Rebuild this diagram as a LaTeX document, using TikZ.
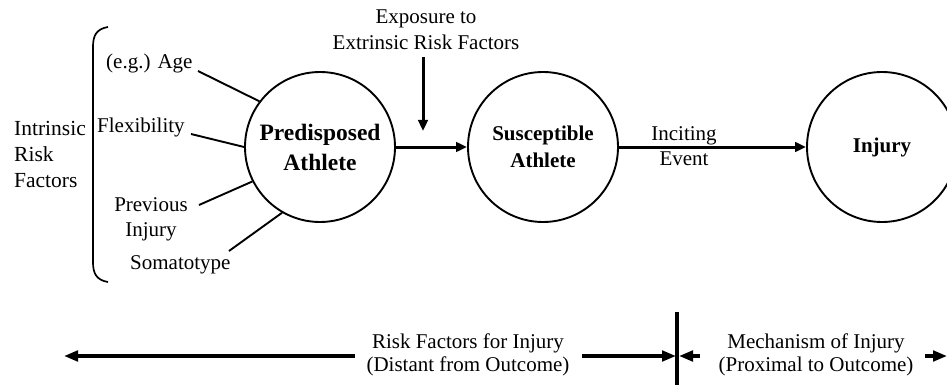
\documentclass[tikz,border=0pt]{standalone}
\usepackage{fontspec}
\setmainfont{Liberation Serif}
\usetikzlibrary{arrows.meta}
\begin{document}
\begin{tikzpicture}[x=1pt,y=-1pt,
  lbl/.style={inner sep=0pt, font=\fontsize{21}{26}\selectfont},
  circ/.style={circle, draw, line width=1.9pt, minimum size=150pt, inner sep=0pt, align=center},
  arr/.style={line width=3pt, -{Triangle[length=11pt,width=9.5pt]}},
  barr/.style={line width=3.3pt, -{Triangle[length=14pt,width=10.5pt]}},
  tie/.style={line width=1.9pt}]
\useasboundingbox (0,0) rectangle (947,385);
\clip (0,0) rectangle (947,385);

% circles
\node[circ, font=\bfseries\fontsize{23.5}{30}\selectfont] (pred) at (320,147) {Predisposed\\Athlete};
\node[circ, font=\bfseries\fontsize{21}{27}\selectfont] (susc) at (543,147) {Susceptible\\Athlete};
\node[circ, font=\bfseries\fontsize{21}{26}\selectfont] (inj) at (882,147) {Injury};

% left labels
\node[lbl, align=left, anchor=west, font=\fontsize{21.5}{26}\selectfont] (intr) at (14,154) {Intrinsic\\Risk\\Factors};
\node[lbl, anchor=west] (age) at (106,63) {(e.g.) Age};
\node[lbl, anchor=west] (flex) at (97,127) {Flexibility};
\node[lbl, align=center, font=\fontsize{21}{25}\selectfont] (prev) at (151,219) {Previous\\Injury};
\node[lbl, anchor=west] (soma) at (130,265) {Somatotype};

% bracket
\draw[line width=1.7pt] (108,27) .. controls (96,29) and (93,36) .. (93,47) -- (93,262) .. controls (93,273) and (96,280) .. (108,282);

% ties
\coordinate (ageend) at (198,71);
\coordinate (flexend) at (191,134);
\coordinate (prevend) at (199,205);
\coordinate (somaend) at (229,251);
\draw[tie] (ageend) -- (pred.143);
\draw[tie] (flexend) -- (pred.180);
\draw[tie] (prevend) -- (pred.207);
\draw[tie] (somaend) -- (pred.240);

% top text and arrows
\node[lbl, align=center] (expo) at (426,30) {Exposure to\\Extrinsic Risk Factors};
\coordinate (dtop) at (423,57);
\coordinate (dbot) at (423,131);
\draw[arr] (dtop) -- (dbot);
\draw[arr] (pred) -- (susc);
\draw[arr] (susc) -- (inj);
\node[lbl, align=center, font=\fontsize{21}{25}\selectfont] (inc) at (684,146) {Inciting\\Event};

% bottom
\node[lbl, align=center, font=\fontsize{21}{23}\selectfont] (rf) at (468,355) {Risk Factors for Injury\\(Distant from Outcome)};
\node[lbl, align=center, font=\fontsize{21}{23}\selectfont] (mech) at (816,355) {Mechanism of Injury\\(Proximal to Outcome)};
\coordinate (bl) at (64,356);
\coordinate (rfL) at (355,356);
\coordinate (rfR) at (582,356);
\coordinate (barL) at (676,356);
\coordinate (barR) at (679,356);
\coordinate (mL) at (700,356);
\coordinate (mR) at (925,356);
\coordinate (br) at (947,356);
\coordinate (bartop) at (677,312);
\coordinate (barbot) at (677,385);
\draw[line width=4pt] (bartop) -- (barbot);
\draw[barr] (rfL) -- (bl);
\draw[barr] (rfR) -- (barL);
\draw[barr] (mL) -- (barR);
\draw[barr] (mR) -- (br);
\end{tikzpicture}
\end{document}
